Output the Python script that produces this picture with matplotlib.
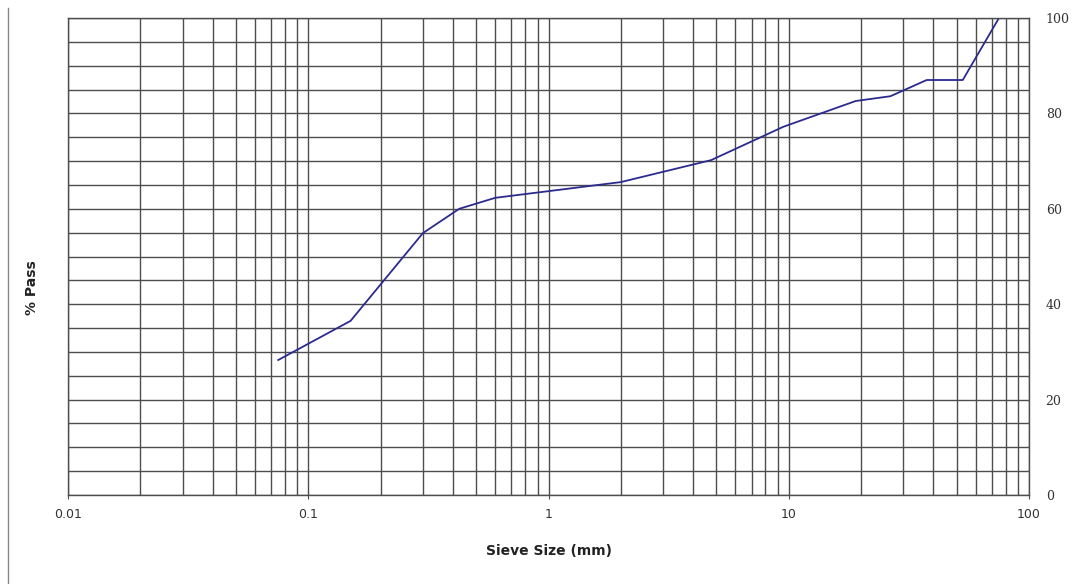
import numpy as np
import matplotlib
matplotlib.use("Agg")
import matplotlib.pyplot as plt
from matplotlib.lines import Line2D
from matplotlib.ticker import LogLocator, MultipleLocator, FixedLocator, FixedFormatter

# grading curve
sieve_mm = [0.075, 0.15, 0.3, 0.425, 0.6, 2.0, 4.75, 9.5, 19.0, 26.5, 37.5, 53.0, 75.0]
pct_pass = [28.3, 36.5, 54.9, 60.0, 62.3, 65.6, 70.2, 77.2, 82.6, 83.6, 87.0, 87.0, 100.0]

x_ticks = [0.01, 0.1, 1, 10, 100]
x_labels = ["0.01", "0.1", "1", "10", "100"]
y_ticks = [0, 20, 40, 60, 80, 100]

fig = plt.figure(figsize=(10.74, 5.84), dpi=100)
ax = fig.add_axes([68 / 1074, 89 / 584, 961 / 1074, 477 / 584])

grid_col = "#4d4d4d"
ax.set_xscale("log")
ax.set_xlim(0.01, 100)
ax.set_ylim(0, 100)

ax.xaxis.set_major_locator(FixedLocator(x_ticks))
ax.xaxis.set_major_formatter(FixedFormatter(x_labels))
ax.xaxis.set_minor_locator(LogLocator(base=10, subs=np.arange(2, 10)))
ax.xaxis.set_minor_formatter(matplotlib.ticker.NullFormatter())
ax.yaxis.set_major_locator(FixedLocator(y_ticks))
ax.yaxis.set_minor_locator(MultipleLocator(5))

ax.grid(True, which="both", axis="both", color=grid_col, linewidth=1.0)
ax.set_axisbelow(True)

ax.plot(sieve_mm, pct_pass, color="#2b2b8f", linewidth=1.3)

ax.yaxis.tick_right()
ax.tick_params(axis="y", which="both", length=0, pad=12, labelsize=9, labelcolor="#333333")
ax.tick_params(axis="x", which="major", length=3, pad=6, labelsize=9, labelcolor="#333333", color=grid_col)
ax.tick_params(axis="x", which="minor", length=0)
for lab in ax.get_yticklabels():
    lab.set_family("DejaVu Serif")

for s in ax.spines.values():
    s.set_color(grid_col)
    s.set_linewidth(1.0)

ax.set_xlabel("Sieve Size (mm)", fontsize=10, fontweight="bold", labelpad=17, color="#222222")
fig.text(32 / 1074, 1 - 288 / 584, "% Pass", rotation=90, ha="center", va="center",
         fontsize=10, fontweight="bold", color="#222222")

# left frame line of the original chart area
fig.add_artist(Line2D([8 / 1074, 8 / 1074], [0, 1 - 8 / 584], color="#888888", linewidth=1.0))

fig.savefig("out.png", dpi=100)
